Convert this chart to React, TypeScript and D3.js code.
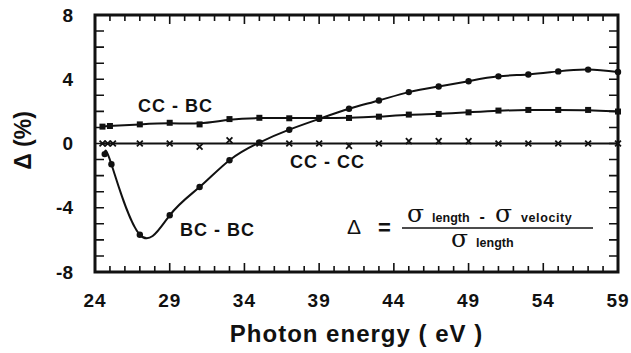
import React from "react";
import * as d3 from "d3";

// photon energy (eV) and delta (%) per curve
const bcbcEnergy = [24.65, 25.1, 27, 29, 31, 33, 35, 37, 39, 41, 43, 45, 47, 49, 51, 53, 55, 57, 59];
const bcbcDelta = [-0.66, -1.29, -5.68, -4.47, -2.71, -1.04, 0.06, 0.86, 1.53, 2.16, 2.68, 3.2, 3.55, 3.88, 4.18, 4.3, 4.49, 4.6, 4.45];

const ccbcEnergy = [24.5, 25.0, 27, 29, 31, 33, 35, 37, 39, 41, 43, 45, 47, 49, 51, 53, 55, 57, 59];
const ccbcDelta = [1.05, 1.09, 1.19, 1.29, 1.19, 1.52, 1.6, 1.57, 1.6, 1.59, 1.67, 1.8, 1.84, 1.94, 2.05, 2.09, 2.09, 2.09, 1.99];

const ccccEnergy = [24.5, 24.85, 25.2, 27, 29, 31, 33, 35, 37, 39, 41, 43, 45, 47, 49, 51, 53, 55, 57, 59];
const ccccDelta = [0, 0, 0, 0, 0, -0.2, 0.2, 0, 0, 0, -0.15, 0, 0.15, 0.15, 0.15, 0, 0, 0, 0, 0];

const xTickLabels = [24, 29, 34, 39, 44, 49, 54, 59];
const yTickLabels = [-8, -4, 0, 4, 8];

const FONT = "'Liberation Sans', Arial, Helvetica, sans-serif";
const INK = "#111";

const W = 631, H = 353;
// plot box (avoid the name "top": it clashes with window.top)
const pl = 95, pr = 618, pt = 15, pb = 272;

const x = d3.scaleLinear().domain([24, 59]).range([pl, pr]);
const y = d3.scaleLinear().domain([-8, 8]).range([pb, pt]);

type Pt = [number, number];
const zip = (a: number[], b: number[]): Pt[] => a.map((v, i) => [v, b[i]]);

const bcbc = zip(bcbcEnergy, bcbcDelta);
const ccbc = zip(ccbcEnergy, ccbcDelta);
const cccc = zip(ccccEnergy, ccccDelta);

const lineGen = (curve: any) =>
  d3.line<Pt>().x((d) => x(d[0])).y((d) => y(d[1])).curve(curve);

const App = () => {
  const minorX = d3.range(24, 60, 1);
  const minorY = d3.range(-8, 9, 1);

  // inward ticks on all four sides, longer every 5 eV
  let ticks = "";
  minorX.forEach((v) => {
    const len = (v - 24) % 5 === 0 ? 9 : 6;
    ticks += `M${x(v)},${pb}v${-len}M${x(v)},${pt}v${len}`;
  });
  minorY.forEach((v) => {
    ticks += `M${pl},${y(v)}h9M${pr},${y(v)}h-9`;
  });

  const xMark = d3.symbol().type(d3.symbolX).size(24)();

  const labelStyle: React.CSSProperties = {
    fontFamily: FONT,
    fontWeight: "bold",
    fontSize: 18,
    letterSpacing: 1,
  };
  const sigma: React.CSSProperties = {
    fontSize: 25,
    fontFamily: "'DejaVu Serif', serif",
    fontWeight: "normal",
  };

  return (
    <svg
      width={W}
      height={H}
      style={{ position: "absolute", left: 0, top: 0, display: "block", background: "#fff" }}
    >
      <path d={ticks} stroke={INK} strokeWidth={1.6} fill="none" />
      <rect x={pl} y={pt} width={pr - pl} height={pb - pt} fill="none" stroke={INK} strokeWidth={3} />

      {/* tick labels */}
      {xTickLabels.map((v) => (
        <text
          key={`x${v}`}
          x={x(v)}
          y={pb + 35}
          textAnchor="middle"
          fill={INK}
          style={{ fontFamily: FONT, fontWeight: "bold", fontSize: 19, letterSpacing: 1 }}
        >
          {v}
        </text>
      ))}
      {yTickLabels.map((v) => (
        <text
          key={`y${v}`}
          x={pl - 22}
          y={y(v) + 6.5}
          textAnchor="end"
          fill={INK}
          style={{ fontFamily: FONT, fontWeight: "bold", fontSize: 19 }}
        >
          {v}
        </text>
      ))}

      {/* CC - CC */}
      <path
        d={lineGen(d3.curveLinear)(cccc.map((p) => [p[0], 0] as Pt)) || ""}
        stroke={INK}
        strokeWidth={2}
        fill="none"
      />
      {cccc.map((d, i) => (
        <path
          key={`xm${i}`}
          d={xMark || ""}
          transform={`translate(${x(d[0])},${y(d[1])})`}
          stroke={INK}
          strokeWidth={1.8}
          fill="none"
        />
      ))}

      {/* CC - BC */}
      <path d={lineGen(d3.curveBasis)(ccbc) || ""} stroke={INK} strokeWidth={2} fill="none" />
      {ccbc.map((d, i) => (
        <rect key={`sq${i}`} x={x(d[0]) - 3} y={y(d[1]) - 3} width={6} height={6} fill={INK} />
      ))}

      {/* BC - BC */}
      <path
        d={lineGen(d3.curveNatural)(bcbc) || ""}
        stroke={INK}
        strokeWidth={2}
        fill="none"
      />
      {bcbc.map((d, i) => (
        <circle key={`ci${i}`} cx={x(d[0])} cy={y(d[1])} r={3.2} fill={INK} />
      ))}

      {/* curve labels */}
      <text x={x(26.88)} y={y(1.96)} fill={INK} style={labelStyle}>CC - BC</text>
      <text x={x(37.05)} y={y(-1.53)} fill={INK} style={labelStyle}>CC - CC</text>
      <text x={x(29.69)} y={y(-5.74)} fill={INK} style={labelStyle}>BC - BC</text>

      {/* formula */}
      <g fill={INK} style={{ fontFamily: FONT, fontWeight: "bold" }}>
        <text x={347} y={234} style={{ fontSize: 21, fontWeight: "normal" }}>Δ</text>
        <text x={378} y={235} style={{ fontSize: 22 }}>=</text>
        <line x1={402} x2={593} y1={228} y2={228} stroke={INK} strokeWidth={1.6} />
        <text x={407} y={222}>
          <tspan style={sigma}>σ</tspan>
          <tspan dx={8} style={{ fontSize: 12.5 }}>length</tspan>
          <tspan dx={10} style={{ fontSize: 16 }}>-</tspan>
          <tspan dx={10} style={sigma}>σ</tspan>
          <tspan dx={9} style={{ fontSize: 12.5, letterSpacing: 0.6 }}>velocity</tspan>
        </text>
        <text x={451} y={247}>
          <tspan style={sigma}>σ</tspan>
          <tspan dx={8} style={{ fontSize: 12.5 }}>length</tspan>
        </text>
      </g>

      {/* axis titles */}
      <text
        x={(pl + pr) / 2}
        y={342}
        textAnchor="middle"
        fill={INK}
        style={{ fontFamily: FONT, fontWeight: "bold", fontSize: 24, letterSpacing: 1 }}
      >
        Photon energy ( eV )
      </text>
      <text
        transform={`translate(31,${(pt + pb) / 2 - 3}) rotate(-90)`}
        textAnchor="middle"
        fill={INK}
        style={{ fontFamily: FONT, fontWeight: "bold", fontSize: 23 }}
      >
        Δ  (%)
      </text>
    </svg>
  );
};

export default App;
